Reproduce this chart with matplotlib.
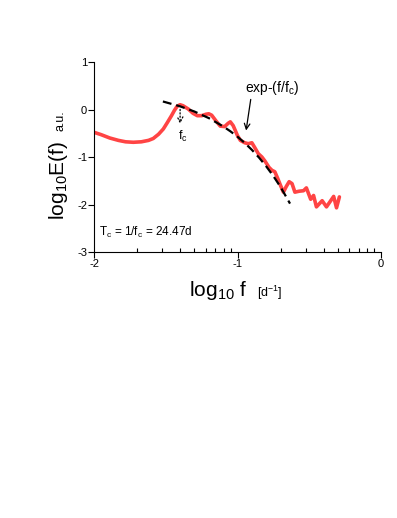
import numpy as np
import matplotlib
matplotlib.use("Agg")
import matplotlib.pyplot as plt

plt.rcParams['font.family'] = ['Liberation Sans', 'DejaVu Sans']
plt.rcParams['mathtext.fontset'] = 'custom'
plt.rcParams['mathtext.rm'] = 'Liberation Sans'
plt.rcParams['mathtext.it'] = 'Liberation Sans'

# spectrum (log10 f, log10 E)
spec_x = [-2.0, -1.95, -1.89, -1.83, -1.78, -1.726, -1.67, -1.62, -1.587, -1.55,
          -1.517, -1.49, -1.46, -1.44, -1.42, -1.40, -1.38, -1.343, -1.31, -1.28,
          -1.25, -1.22, -1.20, -1.18, -1.15, -1.12, -1.09, -1.065, -1.05, -1.03,
          -1.0, -0.98, -0.95, -0.925, -0.90, -0.88, -0.855, -0.83, -0.81, -0.78,
          -0.76, -0.74, -0.72, -0.70, -0.68, -0.66, -0.64, -0.62, -0.60, -0.57,
          -0.54, -0.52, -0.49, -0.47, -0.45, -0.41, -0.38, -0.33, -0.31, -0.29]
spec_y = [-0.48, -0.53, -0.60, -0.65, -0.68, -0.69, -0.68, -0.65, -0.61, -0.52,
          -0.41, -0.28, -0.13, -0.02, 0.07, 0.10, 0.08, 0.01, -0.08, -0.13,
          -0.13, -0.10, -0.09, -0.12, -0.24, -0.35, -0.36, -0.29, -0.26, -0.34,
          -0.55, -0.65, -0.70, -0.72, -0.70, -0.80, -0.93, -1.00, -1.08, -1.22,
          -1.28, -1.31, -1.45, -1.60, -1.74, -1.62, -1.52, -1.56, -1.74, -1.72,
          -1.71, -1.65, -1.89, -1.81, -2.05, -1.92, -2.05, -1.83, -2.07, -1.84]

# exponential fit exp-(f/fc), sampled along the dashed line
fit_x = [-1.52, -1.4, -1.3, -1.2, -1.1, -1.05, -1.0, -0.95, -0.9, -0.85,
         -0.8, -0.75, -0.7, -0.634]
fit_y = [0.169, 0.067, -0.043, -0.181, -0.355, -0.458, -0.573, -0.703, -0.849, -1.012,
         -1.196, -1.401, -1.632, -1.981]

x_major = [-2, -1, 0]
x_minor = [-2 + np.log10(k) for k in range(2, 10)] + [-1 + np.log10(k) for k in range(2, 10)]
y_major = [-3, -2, -1, 0, 1]

fig = plt.figure(figsize=(3.97, 5.18), dpi=100)
ax = fig.add_axes([0.2368, 0.5135, 0.7229, 0.3668])

ax.plot(spec_x, spec_y, color='#ff4444', lw=2.6, solid_joinstyle='round', solid_capstyle='round', zorder=2)
ax.plot(fit_x, fit_y, color='black', lw=1.6, ls=(0, (4, 2.2)), zorder=3)

ax.set_xlim(-2, 0)
ax.set_ylim(-3, 1)
ax.set_xticks(x_major)
ax.set_xticklabels(['-2', '-1', '0'])
ax.set_xticks(x_minor, minor=True)
ax.set_yticks(y_major)
ax.set_yticklabels(['-3', '-2', '-1', '0', '1'])
ax.tick_params(axis='x', which='major', direction='out', length=4, width=0.8, labelsize=8, pad=1)
ax.tick_params(axis='x', which='minor', direction='in', length=3, width=0.8)
ax.tick_params(axis='y', which='major', direction='out', length=4, width=0.8, labelsize=8, pad=1)
for s in ['top', 'right']:
    ax.spines[s].set_visible(False)
for s in ['left', 'bottom']:
    ax.spines[s].set_linewidth(0.8)

# labels
ax.text(-2.245, -1.49, r'log$_{10}$E(f)', rotation=90, fontsize=15, ha='center', va='center', clip_on=False)
ax.text(-2.237, -0.23, 'a.u.', rotation=90, fontsize=9, ha='center', va='center', clip_on=False)
ax.text(-1.136, -3.81, r'log$_{10}$ f', fontsize=15, ha='center', va='center', clip_on=False)
ax.text(-0.777, -3.87, r'[d$^{-1}$]', fontsize=9, ha='center', va='center', clip_on=False)

# annotations
ax.text(-0.76, 0.46, r'exp-(f/f$_c$)', fontsize=10, ha='center', va='center')
ax.annotate('', xy=(-0.943, -0.50), xytext=(-0.905, 0.27),
            arrowprops=dict(arrowstyle='->', color='black', lw=0.9))
ax.annotate('', xy=(-1.40, -0.36), xytext=(-1.40, 0.06),
            arrowprops=dict(arrowstyle='->', color='black', lw=0.9, ls=':'))
ax.text(-1.38, -0.57, r'f$_c$', fontsize=9, ha='center', va='center')
ax.text(-1.965, -2.59, r'T$_c$ = 1/f$_c$ = 24.47d', fontsize=8.5, ha='left', va='center')

fig.savefig('out.png', dpi=100)
